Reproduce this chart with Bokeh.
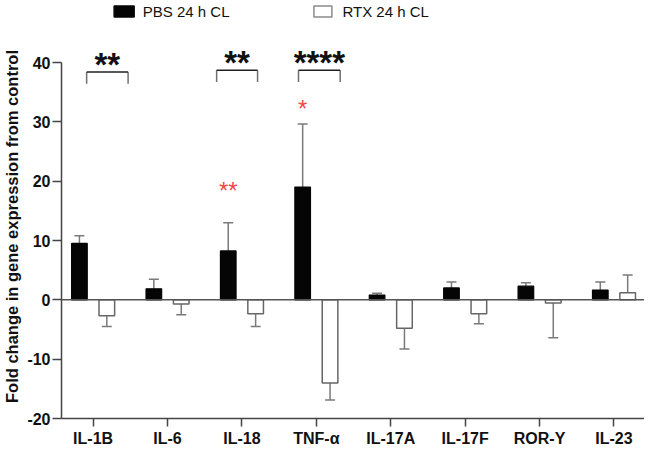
import numpy as np
from bokeh.plotting import figure
from bokeh.layouts import column
from bokeh.models import ColumnDataSource, FixedTicker, Span
from bokeh.core.properties import value
from bokeh.embed import file_html
from bokeh.resources import INLINE

# ---------------- data ----------------
categories = ["IL-1B", "IL-6", "IL-18", "TNF-α", "IL-17A", "IL-17F", "ROR-Y", "IL-23"]
pbs_mean = [9.5, 1.85, 8.25, 19.0, 0.8, 2.0, 2.3, 1.65]
pbs_err = [1.3, 1.6, 4.75, 10.65, 0.3, 1.0, 0.6, 1.35]
rtx_mean = [-2.7, -0.7, -2.35, -14.0, -4.8, -2.35, -0.55, 1.2]
rtx_err = [1.8, 1.8, 2.15, 2.9, 3.5, 1.7, 5.85, 3.0]
series_names = ["PBS 24 h CL", "RTX 24 h CL"]
y_ticks = [-20, -10, 0, 10, 20, 30, 40]
y_tick_labels = ["-20", "-10", "0", "10", "20", "30", "40"]
y_label = "Fold change in gene expression from control"

# significance annotations
bracket_cats = [0, 2, 3]
bracket_labels = ["**", "**", "****"]
red_cats = [2, 3]
red_labels = ["**", "*"]

# ---------------- layout constants ----------------
FONT = "Liberation Sans"
OFF = 0.184
BAR_W = 0.21
ERR_COLOR = "#7a7a7a"
AXIS_COLOR = "#454545"
X_RANGE = (-0.425, 7.41)
bracket_left = [-0.087, -0.34, -0.24]   # relative to category centre
bracket_right = [0.47, 0.21, 0.32]
bracket_top = [38.4, 38.7, 38.7]
bracket_leg = 2.0
red_y = [18.8, 32.6]
legend_sq_x = [0.417, 3.088]
legend_tx_x = [0.667, 3.351]

x = np.arange(len(categories))
pbs_x = x - OFF
rtx_x = x + OFF

# ---------------- legend strip ----------------
lg = figure(width=644, height=34, output_backend="svg", toolbar_location=None,
            x_range=X_RANGE, y_range=(0, 1),
            min_border_left=56, min_border_right=0, min_border_top=0, min_border_bottom=0)
lg.axis.visible = False
lg.grid.visible = False
lg.outline_line_color = None
lg.rect(x=legend_sq_x, y=[0.68, 0.68], width=[20, 18], height=11, width_units="screen",
        height_units="screen", fill_color=["#050505", "white"],
        line_color=["#050505", "#8a8a8a"], line_width=1.5)
lg.text(x=legend_tx_x, y=[0.68, 0.68], text=series_names, text_font=value(FONT),
        text_font_size="15px", text_baseline="middle", text_align="left", text_color="#111111")

# ---------------- main chart ----------------
p = figure(width=644, height=415, output_backend="svg", toolbar_location=None,
           x_range=X_RANGE, y_range=(-20, 44.72),
           min_border_left=56, min_border_right=0, min_border_top=0, min_border_bottom=31)
p.outline_line_color = None
p.xgrid.visible = False
p.ygrid.visible = False

def err_end(means, errs):
    return [m + (e if m >= 0 else -e) for m, e in zip(means, errs)]

pbs_end = err_end(pbs_mean, pbs_err)
rtx_end = err_end(rtx_mean, rtx_err)

for xs, ms, ends in ((pbs_x, pbs_mean, pbs_end), (rtx_x, rtx_mean, rtx_end)):
    src = ColumnDataSource(dict(x=xs, y0=ms, y1=ends))
    p.segment(x0="x", y0="y0", x1="x", y1="y1", line_color=ERR_COLOR, line_width=1.5, source=src)
    p.scatter(x="x", y="y1", marker="dash", size=10, line_color=ERR_COLOR, line_width=1.5, source=src)

src_p = ColumnDataSource(dict(x=pbs_x, top=pbs_mean))
src_r = ColumnDataSource(dict(x=rtx_x, top=rtx_mean))
p.vbar(x="x", top="top", bottom=0, width=BAR_W, fill_color="#050505",
       line_color="#050505", line_width=1.2, source=src_p)
p.vbar(x="x", top="top", bottom=0, width=BAR_W, fill_color="white",
       line_color="#666666", line_width=1.5, source=src_r)

p.add_layout(Span(location=0, dimension="width", line_color="#555555", line_width=1.5))

for c, l, r, t in zip(bracket_cats, bracket_left, bracket_right, bracket_top):
    p.segment(x0=[c + l, c + r], y0=[t, t], x1=[c + l, c + r], y1=[t - bracket_leg, t - bracket_leg],
              line_color="#707070", line_width=1.5)
    p.segment(x0=[c + l], y0=[t], x1=[c + r], y1=[t], line_color="#202020", line_width=1.5)

bx = [c + (l + r) / 2 for c, l, r in zip(bracket_cats, bracket_left, bracket_right)]
by = [t + 2.4 for t in bracket_top]
p.text(x=bx, y=by, text=bracket_labels, text_font=value(FONT), text_font_style="bold",
       text_font_size="33px", text_align="center", text_baseline="alphabetic",
       y_offset=7, text_color="#111111")

rx = [c - OFF for c in red_cats]
p.text(x=rx, y=red_y, text=red_labels, text_font=value(FONT), text_font_size="24px",
       text_align="center", text_baseline="alphabetic", y_offset=2, text_color="#f04848")

p.yaxis.ticker = FixedTicker(ticks=y_ticks)
p.yaxis.major_label_overrides = {t: s for t, s in zip(y_ticks, y_tick_labels)}
p.yaxis.bounds = (-20, 40)
p.yaxis.axis_label = y_label
p.xaxis.ticker = FixedTicker(ticks=[int(i) for i in x])
p.xaxis.major_label_overrides = {int(i): c for i, c in zip(x, categories)}
for ax in (p.xaxis[0], p.yaxis[0]):
    ax.axis_line_color = AXIS_COLOR
    ax.axis_line_width = 1.5
    ax.major_tick_line_color = AXIS_COLOR
    ax.major_tick_line_width = 1.5
    ax.major_tick_in = 0
    ax.minor_tick_line_color = None
    ax.major_label_text_font = FONT
    ax.major_label_text_font_style = "bold"
    ax.major_label_text_color = "#111111"
p.yaxis.major_tick_out = 9
p.xaxis.major_tick_out = 8
p.yaxis.major_label_text_font_size = "16px"
p.xaxis.major_label_text_font_size = "16px"
p.yaxis.major_label_standoff = 2
p.xaxis.major_label_standoff = 3
p.yaxis.axis_label_text_font = FONT
p.yaxis.axis_label_text_font_style = "bold"
p.yaxis.axis_label_text_font_size = "16.5px"
p.yaxis.axis_label_text_color = "#111111"
p.yaxis.axis_label_standoff = 3

layout = column(lg, p, spacing=0)
open("out.html", "w").write(file_html(layout, INLINE))
